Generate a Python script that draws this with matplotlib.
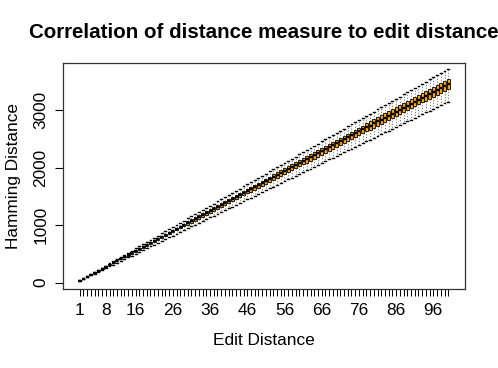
import matplotlib
matplotlib.use("Agg")
import matplotlib.pyplot as plt
import numpy as np

plt.rcParams['font.family'] = ['Liberation Sans', 'DejaVu Sans']

##### data #####
edit_distance = list(range(1, 101))

hamming_median = [35, 69, 104, 138, 173, 208, 242, 277, 311, 346,
                  381, 415, 450, 484, 519, 554, 588, 623, 657, 692,
                  727, 761, 796, 830, 865, 900, 934, 969, 1003, 1038,
                  1073, 1107, 1142, 1176, 1211, 1246, 1280, 1315, 1349, 1384,
                  1419, 1453, 1488, 1522, 1557, 1592, 1626, 1661, 1695, 1730,
                  1765, 1799, 1834, 1868, 1903, 1938, 1972, 2007, 2041, 2076,
                  2111, 2145, 2180, 2214, 2249, 2284, 2318, 2353, 2387, 2422,
                  2457, 2491, 2526, 2560, 2595, 2630, 2664, 2699, 2733, 2768,
                  2803, 2837, 2872, 2906, 2941, 2976, 3010, 3045, 3079, 3114,
                  3149, 3183, 3218, 3252, 3287, 3322, 3356, 3391, 3425, 3460]

# half of the box height (median -> quartile)
box_half = [1, 2, 3, 4, 4, 5, 6, 7, 8, 9,
            10, 11, 12, 13, 13, 14, 15, 16, 17, 18,
            19, 20, 21, 22, 22, 23, 24, 25, 26, 27,
            28, 29, 30, 31, 31, 32, 33, 34, 35, 36,
            37, 38, 39, 40, 40, 41, 42, 43, 44, 45,
            46, 47, 48, 49, 49, 50, 51, 52, 53, 54,
            55, 56, 57, 58, 58, 59, 60, 61, 62, 63,
            64, 65, 66, 67, 67, 68, 69, 70, 71, 72,
            73, 74, 75, 76, 76, 77, 78, 79, 80, 81,
            82, 83, 84, 85, 85, 86, 87, 88, 89, 90]

# whisker reach below / above the median
whisker_below = [3, 6, 9, 12, 16, 19, 22, 25, 28, 31,
                 34, 37, 40, 43, 47, 50, 53, 56, 59, 62,
                 65, 68, 71, 74, 78, 81, 84, 87, 90, 93,
                 96, 99, 102, 105, 109, 112, 115, 118, 121, 124,
                 127, 130, 133, 136, 140, 143, 146, 149, 152, 155,
                 158, 161, 164, 167, 171, 174, 177, 180, 183, 186,
                 189, 192, 195, 198, 202, 205, 208, 211, 214, 217,
                 220, 223, 226, 229, 233, 236, 239, 242, 245, 248,
                 251, 254, 257, 260, 264, 267, 270, 273, 276, 279,
                 282, 285, 288, 291, 295, 298, 301, 304, 307, 310]

whisker_above = [3, 5, 8, 10, 13, 16, 18, 21, 23, 26,
                 29, 31, 34, 36, 39, 42, 44, 47, 49, 52,
                 55, 57, 60, 62, 65, 68, 70, 73, 75, 78,
                 81, 83, 86, 88, 91, 94, 96, 99, 101, 104,
                 107, 109, 112, 114, 117, 120, 122, 125, 127, 130,
                 133, 135, 138, 140, 143, 146, 148, 151, 153, 156,
                 159, 161, 164, 166, 169, 172, 174, 177, 179, 182,
                 185, 187, 190, 192, 195, 198, 200, 203, 205, 208,
                 211, 213, 216, 218, 221, 224, 226, 229, 231, 234,
                 237, 239, 242, 244, 247, 250, 252, 255, 257, 260]

x_labels_shown = [1, 8, 16, 26, 36, 46, 56, 66, 76, 86, 96]
y_ticks = [0, 1000, 2000, 3000]

##### boxplot stats #####
stats = []
for d, m, b, lo, hi in zip(edit_distance, hamming_median, box_half,
                           whisker_below, whisker_above):
    stats.append(dict(med=m, q1=m - b, q3=m + b,
                      whislo=m - lo, whishi=m + hi, fliers=[], label=str(d)))

fig = plt.figure(figsize=(4.98, 3.68), dpi=100)
ax = fig.add_axes([63/498, 1-289/368, (465-63)/498, (289-63)/368])

ax.bxp(stats, positions=edit_distance, widths=0.8, patch_artist=True,
       showfliers=False,
       boxprops=dict(facecolor='orange', edgecolor='black', linewidth=0.6),
       medianprops=dict(color='black', linewidth=1.7),
       whiskerprops=dict(color='#333333', linewidth=0.5, linestyle=(0, (1.5, 2.5))),
       capprops=dict(color='black', linewidth=1.0),
       capwidths=0.5)

ax.set_xlim(-3.5, 104.5)
ax.set_ylim(-110, 3820)

ax.set_xticks(edit_distance)
ax.set_xticklabels([str(d) if d in x_labels_shown else '' for d in edit_distance],
                   fontsize=12.4)
ax.set_yticks(y_ticks)
ax.set_yticklabels([str(v) for v in y_ticks], rotation=90, va='center', fontsize=12.4)
ax.tick_params(axis='x', direction='out', length=5, width=0.7, pad=5)
ax.tick_params(axis='y', direction='out', length=5.5, width=0.8, pad=5)

for s in ax.spines.values():
    s.set_linewidth(0.9)
    s.set_color('#333333')

ax.set_xlabel('Edit Distance', fontsize=12.4, labelpad=11)
ax.set_ylabel('Hamming Distance', fontsize=12.4, labelpad=9)

fig.text(264/498, 1-33/368, 'Correlation of distance measure to edit distance',
         ha='center', va='center', fontsize=14.8, fontweight='bold')

fig.savefig('out.png', dpi=100)
